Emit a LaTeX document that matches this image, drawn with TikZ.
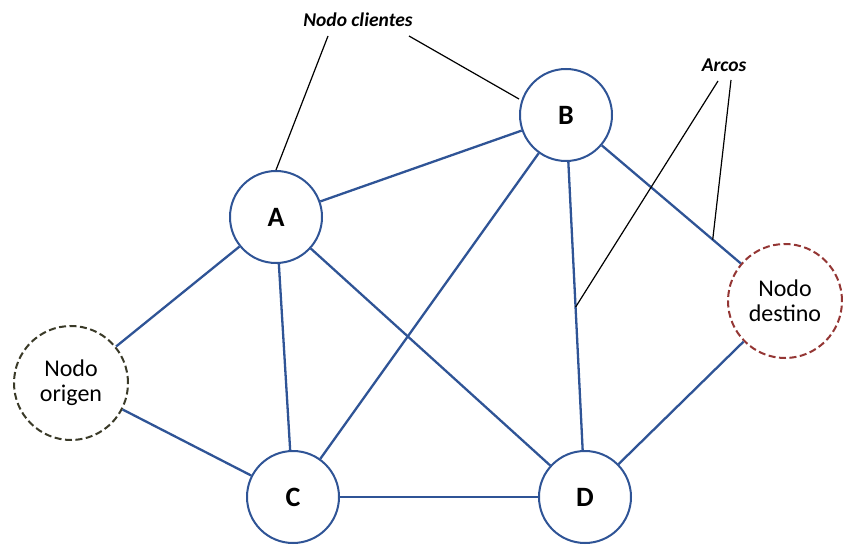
\documentclass[tikz,border=0pt]{standalone}
\usepackage{fontspec}
\setmainfont{Carlito}
\usetikzlibrary{calc}
\definecolor{edgeblue}{HTML}{2F5496}
\definecolor{origcol}{HTML}{3A3A28}
\definecolor{destcol}{HTML}{943634}
\tikzset{
  letternode/.style={circle, draw=edgeblue, line width=2pt, fill=white,
    minimum size=92pt, inner sep=0pt, font=\fontsize{28}{28}\selectfont\bfseries},
  endnode/.style={circle, line width=2pt, fill=white, dash pattern=on 7pt off 3.5pt,
    minimum size=114pt, inner sep=0pt, align=center,
    font=\fontsize{24}{25}\selectfont},
  arc/.style={draw=edgeblue, line width=2.3pt},
  callout/.style={draw=black, line width=1.2pt},
  tag/.style={font=\fontsize{19.5}{19.5}\selectfont\bfseries\itshape, inner sep=0pt}
}
\begin{document}
\begin{tikzpicture}[x=1pt, y=-1pt]
\useasboundingbox (0,0) rectangle (843,545);
% nodes
\node[letternode] (A) at (276,217) {A};
\node[letternode] (B) at (566,115) {B};
\node[letternode] (C) at (293,497) {C};
\node[letternode] (D) at (585,497) {D};
\node[endnode, draw=origcol] (orig) at (71,383) {Nodo\\origen};
\node[endnode, draw=destcol] (dest) at (785,301) {Nodo\\destino};
% labels
\node[tag] (clientes) at (358,20) {Nodo clientes};
\node[tag] (arcos) at (724,65) {Arcos};
% arcs of the network
\draw[arc] (A) -- (B);
\draw[arc] (A) -- (orig);
\draw[arc] (A) -- (C);
\draw[arc] (A) -- (D);
\draw[arc] (B) -- (C);
\draw[arc] (B) -- (D);
\draw[arc] (B) -- (dest);
\draw[arc] (C) -- (D);
\draw[arc] (orig) -- (C);
\draw[arc] (dest) -- (D);
% callout lines
\coordinate (bd) at ($(B)!0.503!(D)$);
\coordinate (bdest) at ($(B)!0.67!(dest)$);
\coordinate (c1) at (328,36);
\coordinate (c2) at (409,36);
\coordinate (a1) at (718,81);
\coordinate (a2) at (731,80);
\draw[callout] (c1) -- (A.north);
\draw[callout] (c2) -- (B.west |- 0,99);
\draw[callout] (a1) -- (bd);
\draw[callout] (a2) -- (bdest);
\end{tikzpicture}
\end{document}
